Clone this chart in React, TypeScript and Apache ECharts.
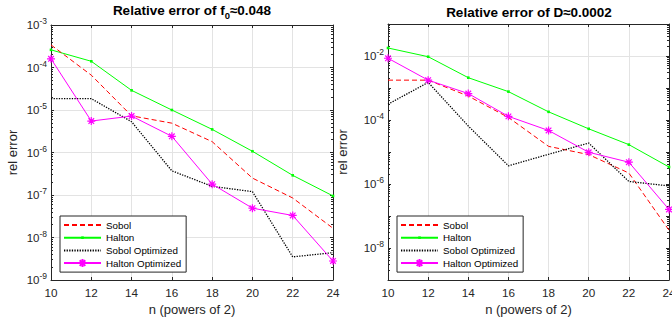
import React, { useEffect, useRef } from "react";
import * as echarts from "echarts";

const nValues = [10, 12, 14, 16, 18, 20, 22, 24];
const seriesNames = ["Sobol", "Halton", "Sobol Optimized", "Halton Optimized"];

// Left: relative error of f0
const f0Sobol = [3.4e-4, 6.6e-5, 7.3e-6, 4.9e-6, 1.8e-6, 2.5e-7, 8.5e-8, 1.65e-8];
const f0Halton = [2.6e-4, 1.4e-4, 2.9e-5, 1.0e-5, 3.5e-6, 1.07e-6, 2.9e-7, 9.5e-8];
const f0SobolOpt = [1.85e-5, 1.85e-5, 5.3e-6, 3.7e-7, 1.6e-7, 1.2e-7, 3.5e-9, 4.4e-9];
const f0HaltonOpt = [1.6e-4, 5.5e-6, 7.2e-6, 2.4e-6, 1.8e-7, 4.9e-8, 3.3e-8, 2.8e-9];

// Right: relative error of D
const dSobol = [1.76e-3, 1.76e-3, 5.6e-4, 1.2e-4, 1.5e-5, 8.3e-6, 2.2e-6, 3.6e-8];
const dHalton = [1.78e-2, 9.5e-3, 2.1e-3, 7.7e-4, 1.8e-4, 5.3e-5, 1.7e-5, 3.4e-6];
const dSobolOpt = [3.1e-4, 1.5e-3, 6.5e-5, 3.7e-6, 8.5e-6, 1.9e-5, 1.2e-6, 8.7e-7];
const dHaltonOpt = [8.5e-3, 1.76e-3, 6.7e-4, 1.3e-4, 4.7e-5, 9.8e-6, 4.8e-6, 1.6e-7];

const xTicks = { min: 10, max: 24, interval: 2 };
const leftYRange = { min: 1e-9, max: 1e-3 };
const rightYRange = { min: 1e-9, max: 1e-1 };
const rightGridValues = [1e-2, 1e-4, 1e-6, 1e-8];

const AX = "#262626";
const GRID = "#e3e3e3";
const FONT = "Liberation Sans, Arial, Helvetica, sans-serif";

// MATLAB-like markers
const asterisk = "path://M5,0L5,10M0,5L10,5M1.5,1.5L8.5,8.5M1.5,8.5L8.5,1.5";
const smallDot = "path://M0,0L0,0M8,8L8,8M2.7,2.7L5.3,2.7L5.3,5.3L2.7,5.3Z";

function expLabel(v: number, onlyEven: boolean) {
  const e = Math.round(Math.log10(v));
  if (onlyEven && e % 2 !== 0) return "";
  return "10{sup|" + e + "}";
}

export default function App() {
  const ref = useRef<HTMLDivElement>(null);
  useEffect(() => {
    if (!ref.current) return;
    const chart = echarts.init(ref.current, null, { renderer: "svg" });

    const grids = [
      { left: 51, top: 25, width: 282, height: 255, outerBoundsMode: "none", containLabel: false },
      { left: 388, top: 24, width: 281, height: 256, outerBoundsMode: "none", containLabel: false },
    ];

    const xAxes: any[] = [];
    const yAxes: any[] = [];
    [0, 1].forEach((g) => {
      xAxes.push({
        type: "value",
        gridIndex: g,
        ...xTicks,
        position: "bottom",
        name: "n (powers of 2)",
        nameLocation: "middle",
        nameGap: 22,
        nameTextStyle: { fontFamily: FONT, fontSize: 13, color: AX },
        axisLine: { show: true, lineStyle: { color: AX, width: 1 } },
        axisTick: { show: true, inside: true, length: 3, lineStyle: { color: AX } },
        axisLabel: {
          fontFamily: FONT,
          fontSize: 11.7,
          color: AX,
          margin: 6,
          alignMaxLabel: "center",
          alignMinLabel: "center",
        },
        splitLine: { show: true, lineStyle: { color: GRID, width: 1 } },
      });
      xAxes.push({
        type: "value",
        gridIndex: g,
        ...xTicks,
        position: "top",
        axisLine: { show: true, lineStyle: { color: AX, width: 1 } },
        axisTick: { show: true, inside: true, length: 3, lineStyle: { color: AX } },
        axisLabel: { show: false },
        splitLine: { show: false },
      });
      const range = g === 0 ? leftYRange : rightYRange;
      const labelStyle = {
        fontFamily: FONT,
        fontSize: 11.5,
        color: AX,
        margin: 4,
        formatter: (v: number) => expLabel(v, g === 1),
        rich: {
          sup: { fontFamily: FONT, fontSize: 8.5, color: AX, padding: [0, 0, 8, 0] },
        },
      };
      yAxes.push({
        type: "log",
        logBase: 10,
        gridIndex: g,
        ...range,
        position: "left",
        name: "rel error",
        nameLocation: "middle",
        nameGap: g === 0 ? 32 : 39,
        nameTextStyle: { fontFamily: FONT, fontSize: 13, color: AX },
        axisLine: { show: true, lineStyle: { color: AX, width: 1 } },
        axisTick: { show: true, inside: true, length: 3, lineStyle: { color: AX } },
        minorTick: { show: true, splitNumber: 9, length: 2, lineStyle: { color: AX } },
        axisLabel: labelStyle,
        splitLine: { show: g === 0, lineStyle: { color: GRID, width: 1 } },
      });
      yAxes.push({
        type: "log",
        logBase: 10,
        gridIndex: g,
        ...range,
        position: "right",
        axisLine: { show: true, lineStyle: { color: AX, width: 1 } },
        axisTick: { show: true, inside: true, length: 3, lineStyle: { color: AX } },
        minorTick: { show: true, splitNumber: 9, length: 2, lineStyle: { color: AX } },
        axisLabel: { show: false },
        splitLine: { show: false },
      });
    });

    const makeSeries = (vals: number[][], g: number) => {
      const xi = g * 2;
      const yi = g * 2;
      const pairs = (arr: number[]) => nValues.map((n, i) => [n, arr[i]]);
      const list: any[] = [
        {
          name: seriesNames[0],
          type: "line",
          xAxisIndex: xi,
          yAxisIndex: yi,
          data: pairs(vals[0]),
          symbol: "none",
          lineStyle: { color: "#ff0000", width: 1, type: [5, 3] },
          itemStyle: { color: "#ff0000" },
          z: 3,
        },
        {
          name: seriesNames[1],
          type: "line",
          xAxisIndex: xi,
          yAxisIndex: yi,
          data: pairs(vals[1]),
          symbol: smallDot,
          symbolSize: 8,
          lineStyle: { color: "#00ff00", width: 1 },
          itemStyle: { color: "#00ff00" },
          z: 2,
        },
        {
          name: seriesNames[2],
          type: "line",
          xAxisIndex: xi,
          yAxisIndex: yi,
          data: pairs(vals[2]),
          symbol: "none",
          lineStyle: { color: "#000000", width: 1.3, type: [1.3, 1.3] },
          itemStyle: { color: "#000000" },
          z: 4,
        },
        {
          name: seriesNames[3],
          type: "line",
          xAxisIndex: xi,
          yAxisIndex: yi,
          data: pairs(vals[3]),
          symbol: asterisk,
          symbolSize: 8,
          lineStyle: { color: "#ff00ff", width: 1 },
          itemStyle: { color: "rgba(0,0,0,0)", borderColor: "#ff00ff", borderWidth: 1.2 },
          z: 5,
        },
      ];
      if (g === 1) {
        list[1].markLine = {
          silent: true,
          symbol: "none",
          label: { show: false },
          lineStyle: { color: GRID, width: 1, type: "solid" },
          data: rightGridValues.map((v) => ({ yAxis: v })),
          z: 0,
        };
      }
      return list;
    };

    const hidden = { color: "rgba(0,0,0,0)", borderWidth: 0 };
    const legendCommon = {
      orient: "vertical",
      itemWidth: 37,
      itemHeight: 10,
      itemGap: 2.7,
      padding: [4, 5, 4, 3],
      backgroundColor: "#ffffff",
      borderColor: AX,
      borderWidth: 1,
      borderRadius: 0,
      textStyle: { fontFamily: FONT, fontSize: 9.8, color: "#000", lineHeight: 10 },
      data: [
        { name: seriesNames[0], itemStyle: hidden },
        { name: seriesNames[1] },
        { name: seriesNames[2], itemStyle: hidden },
        { name: seriesNames[3] },
      ],
    };

    const titleBold = { fontFamily: FONT, fontSize: 13.5, fontWeight: "bold", color: "#000" };

    chart.setOption({
      animation: false,
      backgroundColor: "#ffffff",
      title: [
        {
          text: "{b|Relative error of f}{sub|0}{b|≈0.048}",
          left: 192,
          top: 1,
          padding: 0,
          textAlign: "center",
          textStyle: {
            ...titleBold,
            rich: {
              b: { ...titleBold },
              sub: { ...titleBold, fontSize: 9.5, padding: [9, 0, 0, 0] },
            },
          },
        },
        {
          text: "Relative error of D≈0.0002",
          left: 529,
          top: 5,
          padding: 0,
          textAlign: "center",
          textStyle: titleBold,
        },
      ],
      grid: grids,
      xAxis: xAxes,
      yAxis: yAxes,
      legend: [
        { ...legendCommon, left: 60, top: 216 },
        { ...legendCommon, left: 397, top: 216 },
      ],
      series: [
        ...makeSeries([f0Sobol, f0Halton, f0SobolOpt, f0HaltonOpt], 0),
        ...makeSeries([dSobol, dHalton, dSobolOpt, dHaltonOpt], 1),
      ],
    });
    return () => chart.dispose();
  }, []);
  return (
    <div
      ref={ref}
      style={{ position: "fixed", left: 0, top: 0, width: 672, height: 327 }}
    />
  );
}
